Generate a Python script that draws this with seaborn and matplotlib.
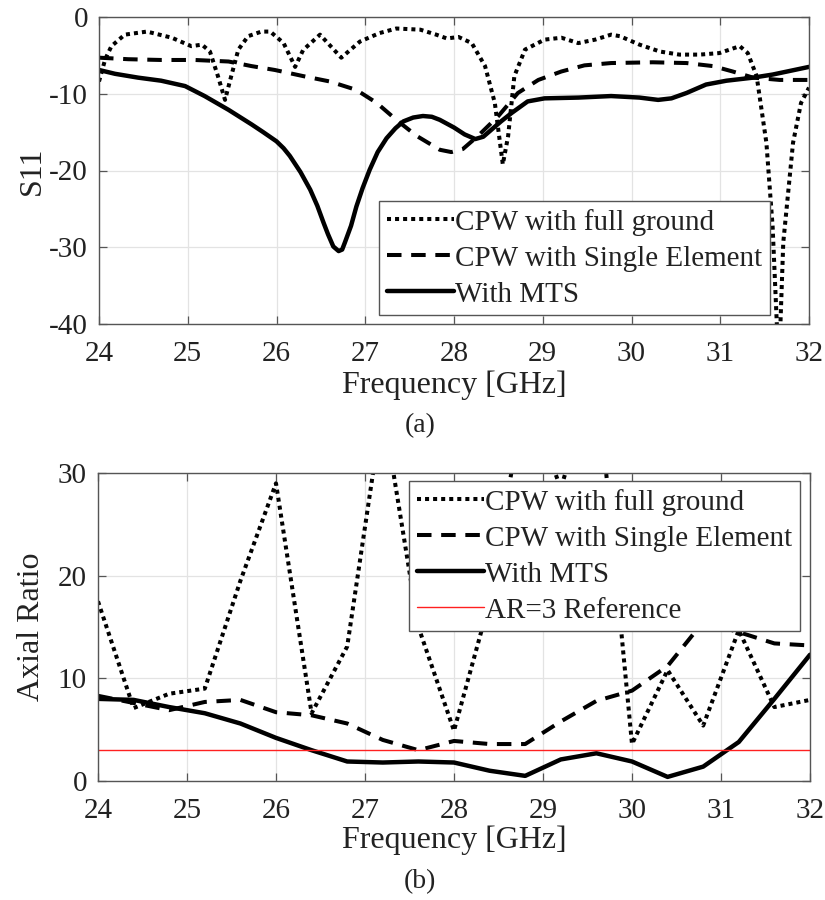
import numpy as np
import pandas as pd
import matplotlib
matplotlib.use("Agg")
import matplotlib.pyplot as plt
import seaborn as sns

# ---------------- data: S11 (a) ----------------
s11_full_f = [24.0, 24.07, 24.14, 24.29, 24.54, 24.82, 25.04, 25.16, 25.25, 25.34, 25.42, 25.49, 25.57,
              25.68, 25.83, 25.93, 26.08, 26.21, 26.30, 26.49, 26.73, 26.94, 27.16, 27.35, 27.62,
              27.80, 27.92, 28.05, 28.2, 28.35, 28.46, 28.55, 28.61, 28.68, 28.8, 29.02, 29.21,
              29.4, 29.59, 29.77, 29.87, 30.09, 30.32, 30.54, 30.77, 30.99, 31.22, 31.31, 31.41,
              31.52, 31.59, 31.66, 31.71, 31.82, 31.91, 32.0]
s11_full = [-8.4, -5.5, -3.8, -2.3, -1.9, -2.7, -3.8, -3.6, -4.5, -7.7, -10.8, -7.7, -4.25,
            -2.5, -1.9, -1.9, -3.4, -6.5, -4.3, -2.3, -5.3, -3.2, -2.1, -1.5, -1.65,
            -2.3, -2.8, -2.6, -3.4, -6.4, -11.2, -19.2, -15.5, -7.7, -4.25, -2.95, -2.7,
            -3.4, -2.95, -2.3, -2.5, -3.6, -4.5, -4.9, -4.9, -4.7, -3.8, -4.7, -7.7,
            -16.4, -27.3, -46.0, -29.4, -16.4, -11.2, -9.2]

s11_single_f = [24.0, 24.33, 24.7, 25.08, 25.46, 25.72, 25.98, 26.3, 26.6, 26.9, 27.13, 27.35,
                27.58, 27.84, 27.97, 28.1, 28.27, 28.5, 28.72, 28.95, 29.21, 29.47, 29.77,
                30.24, 30.62, 30.92, 31.14, 31.37, 31.67, 32.0]
s11_single = [-5.3, -5.5, -5.6, -5.6, -5.8, -6.4, -6.9, -7.7, -8.4, -9.5, -11.2, -13.4,
              -15.5, -17.3, -17.6, -17.2, -15.5, -12.9, -9.9, -8.2, -7.1, -6.3, -6.0,
              -5.9, -6.0, -6.4, -7.1, -7.9, -8.2, -8.2]

s11_mts_f = [24.0, 24.18, 24.44, 24.7, 24.97, 25.19, 25.46, 25.72, 25.85, 26.0, 26.08, 26.15,
             26.27, 26.38, 26.46, 26.53, 26.58, 26.64, 26.7, 26.74, 26.77, 26.84, 26.9, 26.97,
             27.05, 27.14, 27.24, 27.34, 27.43, 27.54, 27.65, 27.75, 27.84, 28.0, 28.12,
             28.24, 28.33, 28.42, 28.53, 28.65, 28.83, 29.02, 29.4, 29.77, 30.09, 30.3,
             30.45, 30.62, 30.84, 31.07, 31.37, 31.59, 32.0]
s11_mts = [-6.9, -7.4, -7.9, -8.3, -9.0, -10.3, -12.1, -14.0, -15.0, -16.2, -17.1, -18.1,
           -20.2, -22.5, -24.6, -26.8, -28.3, -29.9, -30.5, -30.3, -29.4, -27.2, -24.7, -22.3,
           -19.9, -17.6, -15.8, -14.5, -13.6, -13.1, -12.9, -13.0, -13.4, -14.4, -15.3,
           -15.9, -15.6, -14.7, -13.6, -12.5, -11.0, -10.6, -10.5, -10.3, -10.5, -10.8,
           -10.6, -9.9, -8.8, -8.3, -7.9, -7.5, -6.5]

# ---------------- data: Axial ratio (b) ----------------
ar_f = [24.0, 24.4, 24.8, 25.2, 25.6, 26.0, 26.4, 26.8, 27.2, 27.6, 28.0, 28.4, 28.8,
        29.2, 29.6, 30.0, 30.4, 30.8, 31.2, 31.6, 32.0]
ar_full = [17.5, 7.1, 8.5, 9.0, 19.5, 29.0, 6.6, 13.1, 36.4, 15.0, 4.9, 17.5, 38.0,
           28.5, 40.0, 3.6, 10.8, 5.4, 14.7, 7.2, 7.9]
ar_single = [8.3, 7.6, 6.9, 7.7, 7.9, 6.7, 6.4, 5.6, 4.0, 3.0, 3.9, 3.6, 3.6,
             5.8, 7.8, 8.8, 11.2, 15.5, 14.5, 13.4, 13.2]
ar_mts = [8.0, 7.9, 7.2, 6.6, 5.6, 4.2, 3.0, 1.9, 1.8, 1.9, 1.8, 1.0, 0.5,
          2.1, 2.7, 1.9, 0.4, 1.4, 3.8, 8.0, 12.3]
ar_ref = [3.0] * len(ar_f)

labels = ["CPW with full ground", "CPW with Single Element", "With MTS", "AR=3 Reference"]
xticks = [24, 25, 26, 27, 28, 29, 30, 31, 32]

# ---------------- style ----------------
sns.set_theme(style="whitegrid")
plt.rcParams["font.family"] = ["Liberation Serif", "DejaVu Serif"]
plt.rcParams["axes.unicode_minus"] = False

fig = plt.figure(figsize=(8.25, 9.0), dpi=100)
W, H = 825.0, 900.0
ax1 = fig.add_axes([99 / W, 1 - 324 / H, 710 / W, 307 / H])
ax2 = fig.add_axes([98 / W, 1 - 781 / H, 712 / W, 308 / H])

LW = 2.9
dot = (0, (1, 1))
dash = (0, (3.6, 2.4))
TXT = "#222222"

def style_axes(ax, ylab, ylab_x, xlab_y):
    ax.set_facecolor("white")
    ax.grid(True, color="#e3e3e3", linewidth=0.9)
    for s in ax.spines.values():
        s.set_color("#555555")
        s.set_linewidth(1.0)
    ax.tick_params(direction="in", length=6, width=0.9, color="#555555",
                   top=True, right=True, bottom=True, left=True,
                   labelsize=21, labelcolor=TXT)
    ax.tick_params(axis="x", pad=12)
    ax.tick_params(axis="y", pad=8)
    ax.set_xticks(xticks)
    ax.set_xlim(24, 32)
    ax.set_xlabel("Frequency [GHz]", fontsize=23, color=TXT)
    ax.xaxis.label.set_va("center")
    ax.xaxis.set_label_coords(0.5, xlab_y)
    ax.set_ylabel(ylab, fontsize=23, color=TXT)
    ax.yaxis.label.set_va("center")
    ax.yaxis.set_label_coords(ylab_x, 0.5)

def make_legend(ax, anchor):
    leg = ax.legend(loc="upper left", bbox_to_anchor=anchor, borderaxespad=0,
                    fontsize=21, frameon=True, fancybox=False, framealpha=1,
                    edgecolor="#555555", handlelength=2.3, handletextpad=0.05,
                    labelspacing=0.33, borderpad=0.26)
    leg.get_frame().set_linewidth(1.0)
    for t in leg.get_texts():
        t.set_color(TXT)
    return leg

# (a)
sns.lineplot(x=s11_full_f, y=s11_full, ax=ax1, color="black", linewidth=LW,
             linestyle=dot, dash_capstyle="butt", label=labels[0])
sns.lineplot(x=s11_single_f, y=s11_single, ax=ax1, color="black", linewidth=LW,
             linestyle=dash, dash_capstyle="butt", label=labels[1])
sns.lineplot(x=s11_mts_f, y=s11_mts, ax=ax1, color="black", linewidth=LW + 0.3,
             linestyle="-", label=labels[2])
ax1.set_ylim(-40, 0)
ax1.set_yticks([-40, -30, -20, -10, 0])
style_axes(ax1, "S11", -(99 - 32) / 710, -(385 - 324) / 307)
make_legend(ax1, (280 / 710, (324 - 201) / 307))

# (b)
sns.lineplot(x=ar_f, y=ar_full, ax=ax2, color="black", linewidth=LW,
             linestyle=dot, dash_capstyle="butt", label=labels[0])
sns.lineplot(x=ar_f, y=ar_single, ax=ax2, color="black", linewidth=LW,
             linestyle=dash, dash_capstyle="butt", label=labels[1])
sns.lineplot(x=ar_f, y=ar_mts, ax=ax2, color="black", linewidth=LW + 0.3,
             linestyle="-", label=labels[2])
sns.lineplot(x=ar_f, y=ar_ref, ax=ax2, color="#ff2020", linewidth=1.0,
             linestyle="-", label=labels[3])
ax2.set_ylim(0, 30)
ax2.set_yticks([0, 10, 20, 30])
style_axes(ax2, "Axial Ratio", -(98 - 32) / 712, -(840 - 781) / 308)
make_legend(ax2, ((409 - 98) / 712, (781 - 481) / 308))

fig.text(420 / W, 1 - 426 / H, "(a)", ha="center", va="center", fontsize=20, color=TXT)
fig.text(420 / W, 1 - 882 / H, "(b)", ha="center", va="center", fontsize=20, color=TXT)

fig.savefig("out.png", dpi=100, facecolor="white")
